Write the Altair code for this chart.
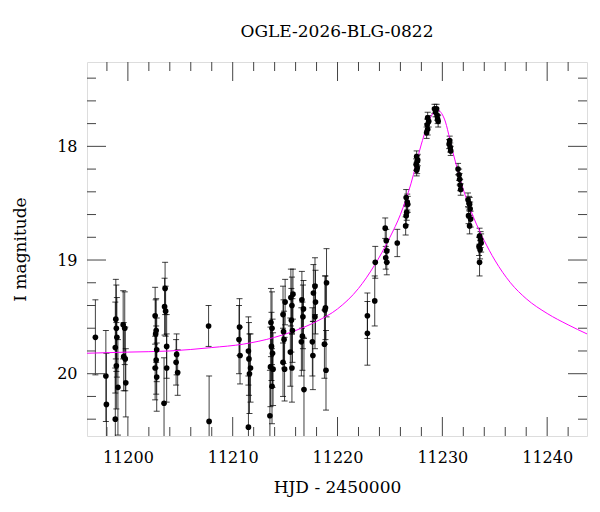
import altair as alt
import pandas as pd

# ---- photometric points (HJD-2450000, I mag, error) ----
t_vals = [
    11196.9,
    11197.9, 11197.95,
    11198.85, 11198.9, 11198.95, 11198.8, 11198.9, 11199.05, 11198.8,
    11199.55, 11199.7, 11199.6, 11199.75, 11199.8,
    11202.6, 11202.7, 11202.65, 11202.75, 11202.7, 11202.6, 11202.75,
    11203.55, 11203.5, 11203.6, 11203.7, 11203.7, 11203.45,
    11204.65, 11204.6, 11204.75,
    11207.7, 11207.75,
    11210.65, 11210.6, 11210.7,
    11211.5, 11211.55, 11211.7, 11211.6, 11211.5,
    11213.65, 11213.75, 11213.7, 11213.8, 11213.6, 11213.85, 11213.75, 11213.55,
    11215.0, 11214.8, 11214.85, 11214.9, 11214.8, 11214.95,
    11215.75, 11215.55, 11215.65, 11215.6, 11215.7, 11215.5, 11215.65,
    11216.6, 11216.75, 11216.7, 11216.65, 11216.55, 11216.8,
    11217.85, 11217.7, 11217.9, 11217.85, 11217.6, 11217.65,
    11218.95, 11218.85, 11218.8, 11218.75, 11218.9,
    11222.85, 11222.85,
    11223.6, 11223.55,
    11224.55, 11224.65, 11224.7, 11224.6, 11224.7,
    11225.7,
    11226.55, 11226.65, 11226.7, 11226.6, 11226.55, 11226.5,
    11227.55, 11227.65, 11227.6, 11227.5, 11227.6, 11227.55,
    11228.6, 11228.7, 11228.55, 11228.6, 11228.5,
    11229.25, 11229.45, 11229.35, 11229.5, 11229.55, 11229.6,
    11230.7, 11230.65, 11230.75, 11230.8,
    11231.5, 11231.6, 11231.65, 11231.7, 11231.75,
    11232.45, 11232.55, 11232.6, 11232.65, 11232.5, 11232.7, 11232.6,
    11233.55, 11233.65, 11233.7, 11233.5, 11233.6, 11233.55,
]
mag_vals = [
    19.68,
    20.02, 20.27,
    19.52, 19.60, 19.68, 19.77, 19.93, 20.12, 20.40,
    19.57, 19.60, 19.85, 19.87, 20.08,
    19.49, 19.62, 19.65, 19.79, 19.88, 19.95, 20.03,
    19.25, 19.41, 19.45, 19.76, 19.95, 20.26,
    19.83, 19.90, 19.99,
    19.58, 20.42,
    19.59, 19.70, 19.84,
    19.80, 19.87, 19.95, 20.00, 20.47,
    19.55, 19.60, 19.76, 19.82, 19.94, 19.96, 20.11, 20.37,
    19.37, 19.48, 19.63, 19.70, 19.90, 19.96,
    19.30, 19.33, 19.40, 19.53, 19.62, 19.81, 19.95,
    19.35, 19.43, 19.50, 19.67, 19.72, 20.14,
    19.23, 19.29, 19.37, 19.50, 19.72, 19.84,
    19.20, 19.42, 19.44, 19.74, 19.97,
    19.49, 19.645,
    19.02, 19.36,
    18.72, 18.83, 18.92, 18.98, 19.02,
    18.85,
    18.45, 18.49, 18.51, 18.58, 18.61, 18.70,
    18.09, 18.12, 18.13, 18.16, 18.19, 18.21,
    17.75, 17.78, 17.81, 17.85, 17.88,
    17.67, 17.67, 17.70, 17.73, 17.76, 17.78,
    17.95, 17.98, 18.01, 18.04,
    18.20, 18.25, 18.29, 18.34, 18.38,
    18.47, 18.50, 18.51, 18.55, 18.61, 18.64, 18.70,
    18.79, 18.82, 18.85, 18.88, 18.91, 19.02,
]
err_vals = [
    0.33,
    0.40, 0.45,
    0.35, 0.38, 0.35, 0.40, 0.38, 0.42, 0.45,
    0.30, 0.32, 0.30, 0.28, 0.30,
    0.25, 0.28, 0.30, 0.28, 0.30, 0.28, 0.30,
    0.23, 0.25, 0.22, 0.28, 0.30, 0.40,
    0.18, 0.20, 0.20,
    0.18, 0.40,
    0.25, 0.30, 0.25,
    0.30, 0.32, 0.30, 0.35, 0.45,
    0.30, 0.32, 0.30, 0.30, 0.35, 0.32, 0.33, 0.40,
    0.20, 0.25, 0.28, 0.25, 0.30, 0.28,
    0.22, 0.25, 0.25, 0.28, 0.28, 0.30, 0.30,
    0.25, 0.25, 0.28, 0.30, 0.30, 0.45,
    0.25, 0.25, 0.28, 0.28, 0.30, 0.30,
    0.30, 0.28, 0.30, 0.30, 0.35,
    0.20, 0.28,
    0.14, 0.22,
    0.09, 0.10, 0.10, 0.10, 0.11,
    0.12,
    0.07, 0.07, 0.07, 0.07, 0.08, 0.08,
    0.05, 0.05, 0.05, 0.05, 0.05, 0.05,
    0.05, 0.05, 0.05, 0.05, 0.05,
    0.04, 0.04, 0.04, 0.04, 0.04, 0.05,
    0.04, 0.04, 0.04, 0.04,
    0.05, 0.05, 0.05, 0.05, 0.05,
    0.06, 0.06, 0.06, 0.06, 0.07, 0.07, 0.07,
    0.07, 0.07, 0.08, 0.08, 0.08, 0.12,
]

# ---- model curve ----
model_t = [11196.1, 11200, 11204, 11208, 11211, 11214, 11216, 11218, 11220,
           11222, 11223.5, 11225, 11226, 11227, 11228, 11228.8, 11229.5,
           11230.2, 11231, 11232, 11233, 11234, 11235, 11236.5, 11238,
           11240, 11242, 11243.8]
model_mag = [19.82, 19.81, 19.80, 19.77, 19.74, 19.68, 19.62, 19.54, 19.43,
             19.25, 19.05, 18.80, 18.60, 18.33, 17.98, 17.76, 17.68,
             17.76, 18.05, 18.38, 18.63, 18.83, 19.00, 19.20, 19.34,
             19.47, 19.57, 19.65]

# ---- axis ticks ----
x_major = [11200, 11210, 11220, 11230, 11240]
x_minor = [11198, 11202, 11204, 11206, 11208, 11212, 11214, 11216, 11218,
           11222, 11224, 11226, 11228, 11232, 11234, 11236, 11238, 11242]
y_major = [18, 19, 20]
y_minor = [17.4, 17.6, 17.8, 18.2, 18.4, 18.6, 18.8, 19.2, 19.4, 19.6, 19.8,
           20.2, 20.4]

X_DOMAIN = [11196.1, 11243.8]
Y_DOMAIN = [17.258, 20.548]
W, H = 500, 374
FONT = "DejaVu Serif"

pts = pd.DataFrame({"t": t_vals, "mag": mag_vals, "err": err_vals})
pts["lo"] = pts["mag"] - pts["err"]
pts["hi"] = pts["mag"] + pts["err"]
model = pd.DataFrame({"t": model_t, "mag": model_mag})

xs = alt.Scale(domain=X_DOMAIN, nice=False, zero=False)
ys = alt.Scale(domain=Y_DOMAIN, reverse=True, nice=False, zero=False)

x_axis = alt.Axis(values=x_major, ticks=False, domain=False, grid=False,
                  labelFont=FONT, labelFontSize=16, labelColor="black",
                  labelPadding=13, title="HJD - 2450000", titleFont=FONT,
                  titleFontSize=17, titleFontWeight="normal", titleColor="black",
                  titlePadding=14, format="d")
y_axis = alt.Axis(values=y_major, ticks=False, domain=False, grid=False,
                  labelFont=FONT, labelFontSize=16, labelColor="black",
                  labelPadding=10, title="I magnitude", titleFont=FONT,
                  titleFontSize=17, titleFontWeight="normal", titleColor="black",
                  titlePadding=27, format="d")

base = alt.Chart(pts)

bars = base.mark_rule(color="black", strokeWidth=1, opacity=0.75, clip=True).encode(
    x=alt.X("t:Q", scale=xs, axis=x_axis),
    y=alt.Y("lo:Q", scale=ys, axis=y_axis),
    y2="hi:Q",
)
caps_lo = base.mark_tick(color="black", orient="horizontal", size=6,
                         thickness=1, opacity=0.75, clip=True).encode(
    x=alt.X("t:Q", scale=xs), y=alt.Y("lo:Q", scale=ys))
caps_hi = base.mark_tick(color="black", orient="horizontal", size=6,
                         thickness=1, opacity=0.75, clip=True).encode(
    x=alt.X("t:Q", scale=xs), y=alt.Y("hi:Q", scale=ys))
dots = base.mark_circle(color="black", size=32, opacity=1, clip=True).encode(
    x=alt.X("t:Q", scale=xs), y=alt.Y("mag:Q", scale=ys))

curve = alt.Chart(model).mark_line(color="#ff00ff", strokeWidth=1,
                                   interpolate="monotone", clip=True).encode(
    x=alt.X("t:Q", scale=xs), y=alt.Y("mag:Q", scale=ys))

TC = "#444444"
def xticks(vals, length):
    d = pd.DataFrame({"v": vals})
    bot = alt.Chart(d).mark_rule(color=TC, strokeWidth=1).encode(
        x=alt.X("v:Q", scale=xs), y=alt.value(H), y2=alt.value(H - length))
    top = alt.Chart(d).mark_rule(color=TC, strokeWidth=1).encode(
        x=alt.X("v:Q", scale=xs), y=alt.value(0), y2=alt.value(length))
    return [bot, top]

def yticks(vals, length):
    d = pd.DataFrame({"v": vals})
    left = alt.Chart(d).mark_rule(color=TC, strokeWidth=1).encode(
        y=alt.Y("v:Q", scale=ys), x=alt.value(0), x2=alt.value(length))
    right = alt.Chart(d).mark_rule(color=TC, strokeWidth=1).encode(
        y=alt.Y("v:Q", scale=ys), x=alt.value(W), x2=alt.value(W - length))
    return [left, right]

tick_layers = (xticks(x_major, 19) + xticks(x_minor, 9)
               + yticks(y_major, 19) + yticks(y_minor, 9))

chart = alt.layer(bars, caps_lo, caps_hi, curve, dots, *tick_layers).properties(
    width=W, height=H,
    title=alt.TitleParams("OGLE-2026-BLG-0822", font=FONT, fontSize=17,
                          fontWeight="normal", color="black", anchor="middle",
                          offset=21),
    autosize=alt.AutoSizeParams(type="none"),
    padding={"left": 87, "top": 62, "right": 13, "bottom": 76},
).configure_view(stroke="black", strokeWidth=1).configure(background="white")

chart.save("out.html", embed_options={"renderer": "svg", "actions": False})
